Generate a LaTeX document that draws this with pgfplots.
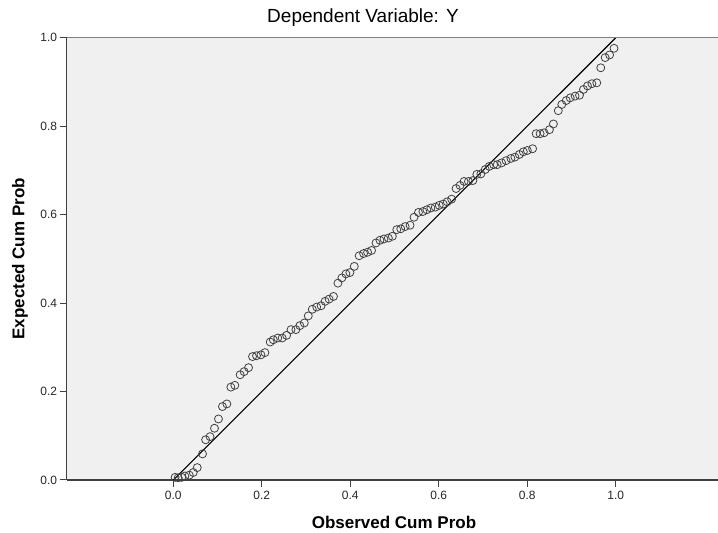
\documentclass[border=0pt]{standalone}
\usepackage{pgfplots}
\pgfplotsset{compat=1.18}
\usepackage{fontspec}
\setmainfont{Liberation Sans}
\definecolor{plotbg}{HTML}{F0F0F0}
\definecolor{axgray}{HTML}{404040}

\pgfplotstableread{
x y
0.004 0.006
0.011 0.005
0.019 0.006
0.026 0.009
0.036 0.011
0.045 0.017
0.054 0.028
0.066 0.059
0.073 0.091
0.083 0.098
0.093 0.117
0.102 0.138
0.111 0.166
0.121 0.172
0.130 0.210
0.139 0.214
0.151 0.238
0.160 0.245
0.170 0.254
0.179 0.279
0.188 0.281
0.198 0.283
0.207 0.288
0.219 0.312
0.226 0.317
0.236 0.321
0.246 0.321
0.256 0.327
0.266 0.340
0.277 0.340
0.286 0.349
0.296 0.355
0.305 0.371
0.314 0.386
0.324 0.391
0.334 0.394
0.343 0.404
0.352 0.409
0.362 0.415
0.372 0.445
0.381 0.457
0.390 0.466
0.399 0.469
0.409 0.483
0.420 0.507
0.430 0.512
0.439 0.515
0.448 0.519
0.458 0.536
0.467 0.542
0.476 0.545
0.486 0.547
0.495 0.551
0.505 0.566
0.514 0.568
0.524 0.573
0.535 0.576
0.544 0.594
0.554 0.605
0.564 0.607
0.573 0.611
0.582 0.615
0.592 0.617
0.601 0.621
0.610 0.624
0.619 0.629
0.629 0.635
0.639 0.659
0.648 0.666
0.657 0.675
0.667 0.675
0.677 0.677
0.686 0.691
0.695 0.692
0.705 0.702
0.714 0.709
0.724 0.713
0.732 0.713
0.742 0.717
0.752 0.722
0.763 0.727
0.772 0.730
0.782 0.736
0.791 0.742
0.800 0.745
0.812 0.749
0.820 0.783
0.829 0.783
0.838 0.785
0.850 0.792
0.859 0.805
0.870 0.835
0.878 0.849
0.888 0.858
0.897 0.864
0.908 0.868
0.918 0.870
0.927 0.883
0.936 0.891
0.946 0.896
0.957 0.898
0.966 0.932
0.976 0.955
0.986 0.961
0.996 0.976
}\pp

\begin{document}
\begin{tikzpicture}
\begin{axis}[
    scale only axis, width=651.3pt, height=442.3pt,
    xmin=-0.241, xmax=1.231, ymin=0, ymax=1,
    axis lines=left, axis line style={-, draw=axgray, line width=1.4pt},
    axis background/.style={fill=plotbg},
    xtick={0,0.2,0.4,0.6,0.8,1.0}, ytick={0,0.2,0.4,0.6,0.8,1.0},
    tick align=outside, major tick length=7pt,
    tick style={axgray, line width=1pt},
    /pgf/number format/.cd, fixed, fixed zerofill, precision=1, assume math mode=true,
    /pgfplots/.cd,
    tick label style={font=\fontsize{12}{14}\selectfont, text=black!85},
    xticklabel style={yshift=-1pt},
    yticklabel style={xshift=1pt},
    clip=false]
    \addplot[black, line width=1.1pt] coordinates {(0,0) (1,1)};
    \addplot[only marks, mark=o, mark size=4pt, mark options={draw=black!75, line width=0.8pt}] table {\pp};
    \coordinate (bl) at (rel axis cs:0,0);
    \coordinate (tl) at (rel axis cs:0,1);
    \coordinate (tr) at (rel axis cs:1,1);
    \coordinate (br) at (rel axis cs:1,0);
\end{axis}
\draw[gray, line width=1.4pt] (tl) -- (tr);
\node[font=\fontsize{19}{22}\selectfont] at ([shift={(296.3pt,19.7pt)}]tl) {Dependent Variable: Y};
\node[font=\fontsize{17}{20}\selectfont\bfseries] at ([shift={(327.3pt,-42pt)}]bl) {Observed Cum Prob};
\path (bl) -- (tl) coordinate[pos=0.5] (lm);
\node[rotate=90, font=\fontsize{17}{20}\selectfont\bfseries] at ([xshift=-46.7pt]lm) {Expected Cum Prob};
\pgfresetboundingbox
\path[use as bounding box] ([shift={(-66.7pt,-53pt)}]bl) rectangle ([shift={(0pt,37.7pt)}]tr);
\end{tikzpicture}
\end{document}
